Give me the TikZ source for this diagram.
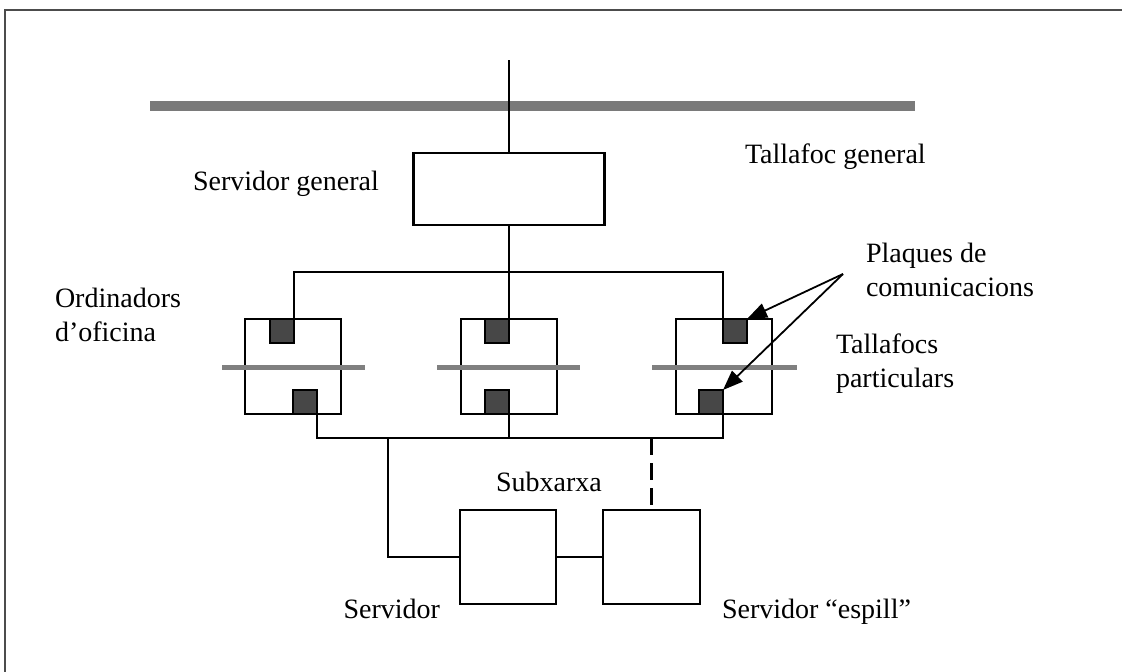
\documentclass[tikz,border=0pt]{standalone}
\usepackage{fontspec}
\setmainfont{Liberation Serif}
\usetikzlibrary{arrows.meta}
\begin{document}
\begin{tikzpicture}[x=1pt,y=-1pt,
  wire/.style={line width=2.5pt,black},
  box/.style={draw=black,line width=2.5pt,fill=white,inner sep=0pt,outer sep=0pt},
  plaque/.style={draw=black,line width=1.8pt,fill=black!72,inner sep=0pt,outer sep=0pt,minimum width=24pt,minimum height=24pt},
  pcbox/.style={box,minimum width=96pt,minimum height=95pt},
  srvbox/.style={box,minimum width=96pt,minimum height=94pt},
  fwbar/.style={line width=5pt,black!50},
  mainbar/.style={line width=10pt,black!52},
  lbl/.style={inner sep=0pt,outer sep=0pt,font=\fontsize{28}{34}\selectfont,align=left},
  pointer/.style={line width=1.8pt,-{Triangle[length=20pt,width=15pt]}}
]
\useasboundingbox (0,0) rectangle (1122,672);
\fill[white] (0,0) rectangle (1122,672);
% frame
\draw[line width=2.2pt,black!70] (5,672) -- (5,10) -- (1122,10);

% general firewall bar
\coordinate (barL) at (150,106);
\coordinate (barR) at (915,106);
\draw[mainbar] (barL) -- (barR);

% general server
\node[box,minimum width=191pt,minimum height=72pt] (srv) at (509,189) {};
\coordinate (antenna) at (509,60);
\draw[wire] (antenna) -- (srv.north);

% office computers
\node[pcbox] (pc1) at (293,366.5) {};
\node[pcbox] (pc2) at (509,366.5) {};
\node[pcbox] (pc3) at (724,366.5) {};

% particular firewalls
\coordinate (fw1L) at (222,367); \coordinate (fw1R) at (365,367);
\coordinate (fw2L) at (437,367); \coordinate (fw2R) at (580,367);
\coordinate (fw3L) at (652,367); \coordinate (fw3R) at (797,367);
\draw[fwbar] (fw1L) -- (fw1R);
\draw[fwbar] (fw2L) -- (fw2R);
\draw[fwbar] (fw3L) -- (fw3R);

% communication cards
\node[plaque] (sq1t) at (282,331) {};
\node[plaque] (sq1b) at (305,402) {};
\node[plaque] (sq2t) at (497,331) {};
\node[plaque] (sq2b) at (497,402) {};
\node[plaque] (sq3t) at (735,331) {};
\node[plaque] (sq3b) at (711,402) {};

% buses
\coordinate (topbus) at (509,272);
\coordinate (botbus) at (509,438);
\draw[wire] (sq1t.north east) |- (topbus) -| (sq3t.north west);
\draw[wire] (srv.south) -- (sq2t.north east);
\draw[wire] (sq1b.south east) |- (botbus) -| (sq3b.south east);
\draw[wire] (sq2b.south east) -- (botbus);

% subnet servers
\node[srvbox] (srvA) at (508,557) {};
\node[box,minimum width=97pt,minimum height=94pt] (mirror) at (651.5,557) {};
\coordinate (tap1) at (388,438);
\coordinate (tap2) at (651.5,438);
\draw[wire] (tap1) |- (srvA.west);
\draw[wire] (srvA.east) -- (mirror.west);
\draw[wire,dash pattern=on 17pt off 8pt] (tap2) -- (mirror.north);

% labels
\node[lbl,anchor=base west] (lsg) at (193,190) {Servidor general};
\node[lbl,anchor=base west] (ltg) at (745,163) {Tallafoc general};
\node[lbl,anchor=north west] (lpc) at (866,243) {Plaques de\\comunicacions};
\node[lbl,anchor=north west] (lod) at (55,288) {Ordinadors\\d’oficina};
\node[lbl,anchor=north west] (ltp) at (836,334) {Tallafocs\\particulars};
\node[lbl,anchor=base] (lsx) at (549,491) {Subxarxa};
\node[lbl,anchor=base east] (lsv) at (440,618) {Servidor};
\node[lbl,anchor=base west] (lse) at (722,618) {Servidor “espill”};

% arrows to the cards
\coordinate (plq) at (843,274);
\draw[pointer] (plq) -- (sq3t.north east);
\draw[pointer] (plq) -- (sq3b.north east);
\end{tikzpicture}
\end{document}
